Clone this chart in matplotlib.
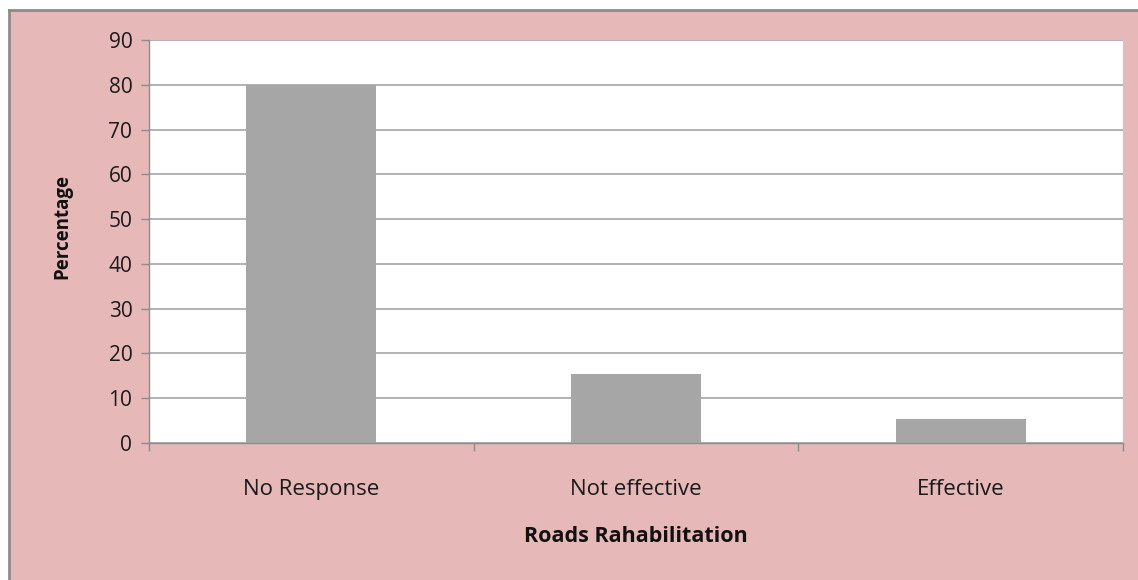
import numpy as np
import matplotlib
matplotlib.use("Agg")
import matplotlib.pyplot as plt
from matplotlib.patches import Rectangle

categories = ["No Response", "Not effective", "Effective"]
values = [80, 15.3, 5.3]
yticks = [0, 10, 20, 30, 40, 50, 60, 70, 80, 90]

pink = "#E6B9B8"
plt.rcParams["font.family"] = ["Open Sans", "DejaVu Sans"]

fig = plt.figure(figsize=(11.38, 5.8), dpi=100)
fig.patch.set_facecolor("white")
# pink chart area with grey border on the top/left
fig.patches.append(Rectangle((9 / 1138, 0), 1 - 9 / 1138, 1 - 10 / 580,
                             transform=fig.transFigure, facecolor=pink,
                             edgecolor="none", zorder=-1))
fig.lines.append(plt.Line2D([9 / 1138, 9 / 1138], [0, 1 - 10 / 580],
                            transform=fig.transFigure, color="#8c8c8c", lw=2))
fig.lines.append(plt.Line2D([9 / 1138, 1], [1 - 10 / 580, 1 - 10 / 580],
                            transform=fig.transFigure, color="#8c8c8c", lw=2))

left, right, top, bottom = 149, 1123, 40, 443
ax = fig.add_axes([left / 1138, 1 - bottom / 580, (right - left) / 1138, (bottom - top) / 580])
ax.set_zorder(5)
ax.set_facecolor("white")

x = np.arange(len(categories))
ax.bar(x, values, width=0.4, color="#A6A6A6", zorder=3)

ax.set_xlim(-0.5, len(categories) - 0.5)
ax.set_ylim(0, 90)
ax.set_yticks(yticks)
ax.yaxis.grid(True, color="#A6A6A6", lw=1.2, zorder=0)
ax.set_xticks(x)
ax.set_xticklabels(categories)
ax.set_xticks(np.arange(len(categories) + 1) - 0.5, minor=True)
ax.tick_params(axis="x", which="major", length=0, pad=26, labelsize=16, labelcolor="#1a1a1a")
ax.tick_params(axis="x", which="minor", length=6, width=1, color="#8c8c8c", direction="out")
ax.tick_params(axis="y", length=6, width=1, color="#8c8c8c", labelsize=15, labelcolor="#1a1a1a", pad=6)

for s in ["top", "right"]:
    ax.spines[s].set_visible(False)
ax.spines["left"].set_color("#8c8c8c")
ax.spines["bottom"].set_color("#8c8c8c")
ax.spines["left"].set_linewidth(1)
ax.spines["bottom"].set_linewidth(1)

fig.text(62 / 1138, 1 - 227 / 580, "Percentage", rotation=90, ha="center", va="center",
         fontsize=13.5, fontweight="bold", color="#111111")
fig.text(636 / 1138, 1 - 537 / 580, "Roads Rahabilitation", ha="center", va="center",
         fontsize=15.5, fontweight="bold", color="#111111")

fig.savefig("out.png", dpi=100, facecolor=fig.get_facecolor())
